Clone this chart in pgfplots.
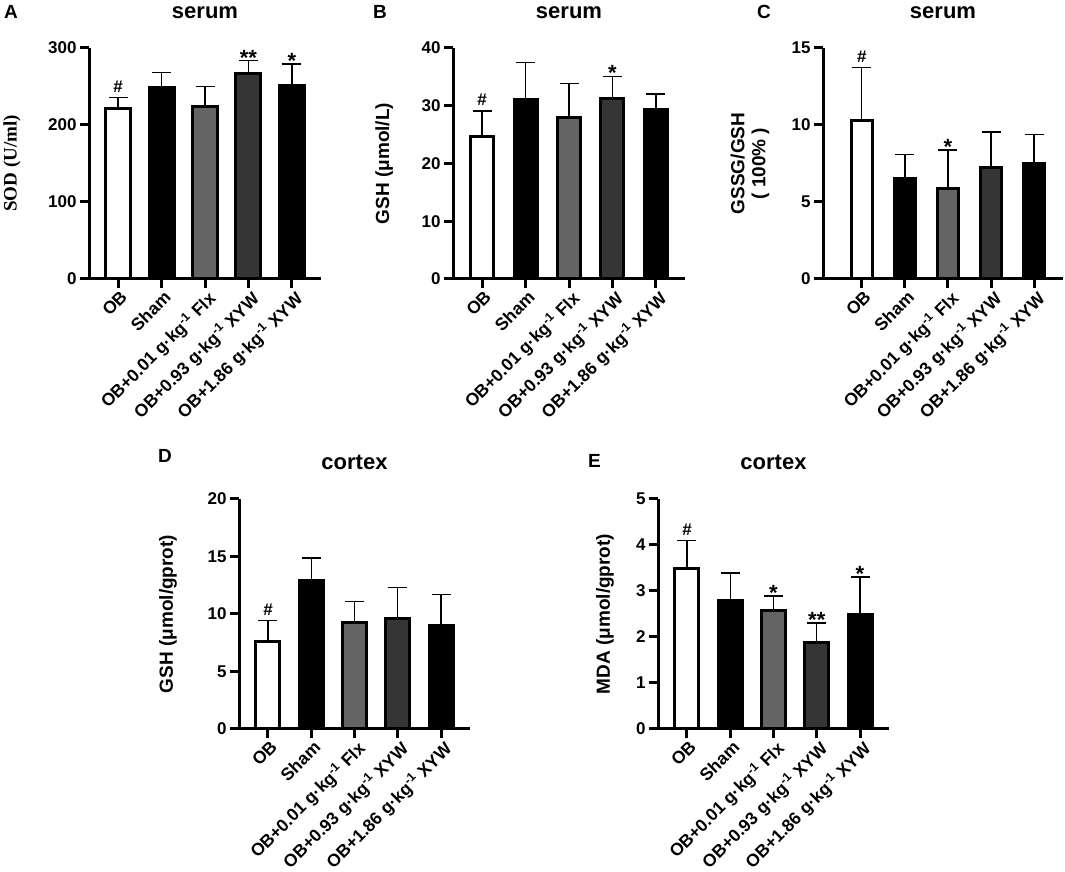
\documentclass[border=0pt]{standalone}
\usepackage{pgfplots}
\pgfplotsset{compat=1.18}
\usepackage{fontspec}
\setmainfont{Liberation Sans}
\newfontfamily\seriffont{Liberation Serif}
\newcommand{\fs}[1]{\fontsize{#1}{#1}\selectfont}
\definecolor{flx}{HTML}{646464}
\definecolor{xyw}{HTML}{353535}
\pgfplotsset{
  panel/.style={
    scale only axis,
    axis lines=left,
    axis line style={line width=3pt, -},
    tick style={line width=3pt, black},
    major tick length=9pt,
    tick align=outside,
    ymin=0, enlargelimits=false,
    xmin=-0.67, xmax=4.67,
    xtick={0,1,2,3,4},
    xticklabels={OB, Sham, OB+0.01 g·kg\textsuperscript{-1} Flx, OB+0.93 g·kg\textsuperscript{-1} XYW, OB+1.86 g·kg\textsuperscript{-1} XYW},
    xticklabel style={rotate=45, anchor=north east, font=\bfseries\fs{17.5}, inner sep=0pt, yshift=-2pt},
    yticklabel style={font=\bfseries\fs{17}},
    /pgf/number format/assume math mode=true,
    title style={font=\bfseries\fs{22}, anchor=base, at={(axis description cs:0.5,1.102)}},
    ylabel style={font=\bfseries\fontsize{19}{21}\selectfont, anchor=center, align=center},
    clip=false,
    minor tick num=0,
  },
  sbar/.style={ybar, bar shift=0pt, draw=black, line width=3pt, fill=#1,
    error bars/.cd, y dir=plus, y explicit,
    error bar style={line width=1.4pt, black},
    error mark options={rotate=90, line width=1.4pt, black, mark size=9.5pt}},
  hashmark/.style={draw=none, mark=none, forget plot, nodes near coords={\#},
    nodes near coords style={anchor=base, yshift=5pt, inner sep=0pt, font=\bfseries\fs{17}}},
  starmark/.style={draw=none, mark=none, forget plot, nodes near coords={#1},
    nodes near coords style={anchor=base, yshift=-4.5pt, inner sep=0pt, font=\bfseries\fs{22}}},
}
\begin{document}
\begin{tikzpicture}
\useasboundingbox (0,0) rectangle (1065pt,872pt);
% panel letters
\node[anchor=base west, font=\bfseries\fs{19}, inner sep=0pt] at (4pt,853pt) {A};
\node[anchor=base west, font=\bfseries\fs{19}, inner sep=0pt] at (373pt,853pt) {B};
\node[anchor=base west, font=\bfseries\fs{19}, inner sep=0pt] at (757pt,853pt) {C};
\node[anchor=base west, font=\bfseries\fs{19}, inner sep=0pt] at (158pt,409pt) {D};
\node[anchor=base west, font=\bfseries\fs{19}, inner sep=0pt] at (588pt,404pt) {E};

% A
\begin{axis}[panel, at={(89pt,593pt)}, anchor=south west, width=232pt, height=231pt,
  ymax=300, ytick={0,100,200,300}, bar width=25pt,
  title={serum}, ylabel={\seriffont\bfseries SOD (U/ml)},
  ylabel style={at={(axis description cs:-0.332,0.5)}}]
\addplot[sbar=white] coordinates {(0,222) +- (0,14)};
\addplot[sbar=black] coordinates {(1,249) +- (0,19)};
\addplot[sbar=flx] coordinates {(2,224) +- (0,26)};
\addplot[sbar=xyw] coordinates {(3,267) +- (0,16.5)};
\addplot[sbar=black] coordinates {(4,251.5) +- (0,27.5)};
\addplot[hashmark] coordinates {(0,236)};
\addplot[starmark={**}] coordinates {(3,283.5)};
\addplot[starmark={*}] coordinates {(4,279)};
\end{axis}

% B
\begin{axis}[panel, at={(453pt,593pt)}, anchor=south west, width=232pt, height=231pt,
  ymax=40, ytick={0,10,20,30,40}, bar width=23pt,
  title={serum}, ylabel={GSH (μmol/L)},
  ylabel style={at={(axis description cs:-0.297,0.5)}}]
\addplot[sbar=white] coordinates {(0,24.7) +- (0,4.4)};
\addplot[sbar=black] coordinates {(1,31.0) +- (0,6.5)};
\addplot[sbar=flx] coordinates {(2,28.0) +- (0,5.9)};
\addplot[sbar=xyw] coordinates {(3,31.2) +- (0,3.9)};
\addplot[sbar=black] coordinates {(4,29.3) +- (0,2.7)};
\addplot[hashmark] coordinates {(0,29.1)};
\addplot[starmark={*}] coordinates {(3,35.1)};
\end{axis}

% C
\begin{axis}[panel, at={(823pt,593pt)}, anchor=south west, width=240pt, height=231pt,
  xmin=-0.9, xmax=4.67,
  ymax=15, ytick={0,5,10,15}, bar width=21pt,
  title={serum}, ylabel={GSSG/GSH\\(\hspace{5pt}100\%\hspace{5pt})},
  ylabel style={at={(axis description cs:-0.304,0.5)}}]
\addplot[sbar=white] coordinates {(0,10.3) +- (0,3.45)};
\addplot[sbar=black] coordinates {(1,6.5) +- (0,1.57)};
\addplot[sbar=flx] coordinates {(2,5.9) +- (0,2.48)};
\addplot[sbar=xyw] coordinates {(3,7.25) +- (0,2.3)};
\addplot[sbar=black] coordinates {(4,7.53) +- (0,1.84)};
\addplot[hashmark] coordinates {(0,13.75)};
\addplot[starmark={*}] coordinates {(2,8.38)};
\end{axis}

% D
\begin{axis}[panel, at={(239pt,143pt)}, anchor=south west, width=231pt, height=230pt,
  ymax=20, ytick={0,5,10,15,20}, bar width=24pt,
  title={cortex}, ylabel={GSH (μmol/gprot)},
  ylabel style={at={(axis description cs:-0.307,0.5)}}]
\addplot[sbar=white] coordinates {(0,7.58) +- (0,1.88)};
\addplot[sbar=black] coordinates {(1,12.94) +- (0,1.94)};
\addplot[sbar=flx] coordinates {(2,9.23) +- (0,1.86)};
\addplot[sbar=xyw] coordinates {(3,9.61) +- (0,2.69)};
\addplot[sbar=black] coordinates {(4,8.97) +- (0,2.72)};
\addplot[hashmark] coordinates {(0,9.46)};
\end{axis}

% E
\begin{axis}[panel, at={(658pt,143pt)}, anchor=south west, width=231pt, height=230pt,
  ymax=5, ytick={0,1,2,3,4,5}, bar width=24pt,
  title={cortex}, ylabel={MDA (μmol/gprot)},
  ylabel style={at={(axis description cs:-0.229,0.5)}}]
\addplot[sbar=white] coordinates {(0,3.48) +- (0,0.62)};
\addplot[sbar=black] coordinates {(1,2.79) +- (0,0.6)};
\addplot[sbar=flx] coordinates {(2,2.58) +- (0,0.31)};
\addplot[sbar=xyw] coordinates {(3,1.88) +- (0,0.42)};
\addplot[sbar=black] coordinates {(4,2.49) +- (0,0.81)};
\addplot[hashmark] coordinates {(0,4.1)};
\addplot[starmark={*}] coordinates {(2,2.89)};
\addplot[starmark={**}] coordinates {(3,2.30)};
\addplot[starmark={*}] coordinates {(4,3.30)};
\end{axis}
\end{tikzpicture}
\end{document}
